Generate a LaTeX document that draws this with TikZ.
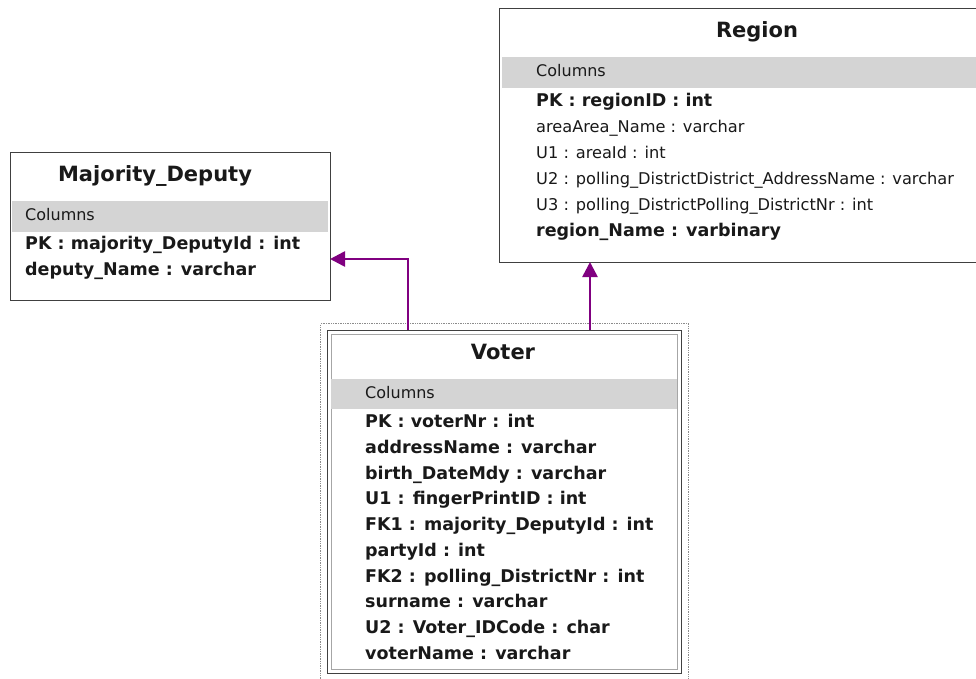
\documentclass[tikz,border=0pt]{standalone}
\usepackage{fontspec}
\setmainfont{DejaVu Sans}
\usetikzlibrary{arrows.meta}
\definecolor{relpurple}{RGB}{128,0,128}
\definecolor{bandgray}{RGB}{212,212,212}
\definecolor{textdark}{RGB}{25,25,25}
\tikzset{
  tablebox/.style={draw=black!75, line width=1.4pt, fill=white, anchor=north west, inner sep=0pt},
  band/.style={fill=bandgray, anchor=north west, inner sep=0pt},
  title/.style={font=\fontsize{21}{21}\selectfont\bfseries, text=textdark},
  head/.style={font=\fontsize{16}{16}\selectfont, anchor=west, text=textdark, inner sep=0pt,
    text height=12pt, text depth=3.5pt},
  col/.style={font=\fontsize{17.5}{17.5}\selectfont\bfseries, anchor=west, text=textdark, inner sep=0pt,
    text height=12.5pt, text depth=3.5pt},
  plaincol/.style={font=\fontsize{16.2}{16.2}\selectfont, anchor=west, text=textdark, inner sep=0pt,
    text height=12pt, text depth=3.5pt},
  rel/.style={draw=relpurple, line width=2.6pt, -{Triangle[length=15pt,width=15pt]}}
}
\begin{document}
\begin{tikzpicture}[x=1pt, y=-1pt]
  \useasboundingbox[fill=white] (0,0) rectangle (976,678);
  % Majority_Deputy
  \node[tablebox, minimum width=320, minimum height=148] (deputy) at (10,152) {};
  \node[band, minimum width=316, minimum height=31] (deputyband) at (12,201) {};
  \node[title] (deputyname) at (155,176) {Majority\_Deputy};
  \node[head] (deputyhead) at (25,216) {Columns};
  \node[col] (d1) at (25,245) {PK : majority\_DeputyId : int};
  \node[col] (d2) at (25,271) {deputy\_Name : varchar};
  % Region
  \node[tablebox, minimum width=520, minimum height=254] (region) at (499,8) {};
  \node[band, minimum width=514, minimum height=31] (regionband) at (502,57) {};
  \node[title] (regionname) at (757,32) {Region};
  \node[head] (regionhead) at (536,72) {Columns};
  \node[col] (r1) at (536,102) {PK : regionID : int};
  \node[plaincol] (r2) at (536,128) {areaArea\_Name : varchar};
  \node[plaincol] (r3) at (536,154) {U1 : areaId : int};
  \node[plaincol] (r4) at (536,180) {U2 : polling\_DistrictDistrict\_AddressName : varchar};
  \node[plaincol] (r5) at (536,206) {U3 : polling\_DistrictPolling\_DistrictNr : int};
  \node[col] (r6) at (536,232) {region\_Name : varbinary};
  % Voter
  \node[draw=black!45, densely dotted, line width=1.4pt, anchor=north west, inner sep=0pt,
        minimum width=368, minimum height=360] (voterframe) at (320,323) {};
  \node[tablebox, minimum width=354, minimum height=343] (voter) at (327,330) {};
  \node[draw=black!35, line width=0.8pt, anchor=north west, inner sep=0pt,
        minimum width=346, minimum height=335] (voterinner) at (331,334) {};
  \node[band, minimum width=346, minimum height=30] (voterband) at (331,379) {};
  \node[title] (votername) at (503,352) {Voter};
  \node[head] (voterhead) at (365,394) {Columns};
  \node[col] (v1) at (365,423) {PK : voterNr : int};
  \node[col] (v2) at (365,449) {addressName : varchar};
  \node[col] (v3) at (365,475) {birth\_DateMdy : varchar};
  \node[col] (v4) at (365,500) {U1 : fingerPrintID : int};
  \node[col] (v5) at (365,526) {FK1 : majority\_DeputyId : int};
  \node[col] (v6) at (365,552) {partyId : int};
  \node[col] (v7) at (365,578) {FK2 : polling\_DistrictNr : int};
  \node[col] (v8) at (365,603) {surname : varchar};
  \node[col] (v9) at (365,629) {U2 : Voter\_IDCode : char};
  \node[col] (v10) at (365,655) {voterName : varchar};
  % relations
  \coordinate (fk1out) at (408,330);
  \coordinate (fk1in) at (330,259);
  \coordinate (fk2out) at (590,330);
  \coordinate (fk2in) at (590,262);
  \draw[rel] (fk1out) |- (fk1in);
  \draw[rel] (fk2out) -- (fk2in);
\end{tikzpicture}
\end{document}
